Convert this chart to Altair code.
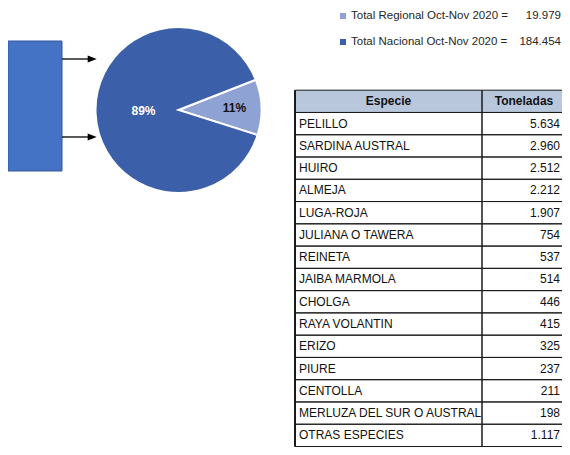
import math
import altair as alt
import pandas as pd

# ---------------- data ----------------
especies = ["PELILLO", "SARDINA AUSTRAL", "HUIRO", "ALMEJA", "LUGA-ROJA",
            "JULIANA O TAWERA", "REINETA", "JAIBA MARMOLA", "CHOLGA",
            "RAYA VOLANTIN", "ERIZO", "PIURE", "CENTOLLA",
            "MERLUZA DEL SUR O AUSTRAL", "OTRAS ESPECIES"]
toneladas = [5634, 2960, 2512, 2212, 1907, 754, 537, 514, 446, 415, 325,
             237, 211, 198, 1117]
encabezados = ["Especie", "Toneladas"]

totales_claves = ["Regional", "Nacional"]
totales_textos = ["Total Regional Oct-Nov 2020 =", "Total Nacional Oct-Nov 2020 ="]
totales_valores = [19979, 184454]

# ---------------- styles ----------------
C_LIGHT = "#8FA2D4"
C_DARK = "#3B5FA9"
C_BOX = "#4472C4"
HEADER_FILL = "#B8C7DC"
FONT = "Liberation Sans"

color_scale = alt.Scale(domain=totales_claves, range=[C_LIGHT, C_DARK])

# ---------------- tables ----------------
pie_df = pd.DataFrame({
    "part": totales_claves,
    "value": [totales_valores[0], totales_valores[1] - totales_valores[0]],
    "orden": [0, 1],
})
leg_df = pd.DataFrame({"part": totales_claves, "label": totales_textos,
                       "value": totales_valores})
rows_df = pd.DataFrame({"r": list(range(1, len(especies) + 1)),
                        "especie": especies, "ton": toneladas})
head_df = pd.DataFrame({"r": [0], "c1": [encabezados[0]], "c2": [encabezados[1]]})
all_rows = pd.DataFrame({"r": list(range(0, len(especies) + 1))})

# ---------------- decoration (box + arrows) ----------------
deco_src = alt.Chart(pd.DataFrame({"k": [0]}))
box = deco_src.mark_rect(fill=C_BOX, stroke="#34589C", strokeWidth=1).encode(
    x=alt.value(0), x2=alt.value(54), y=alt.value(33), y2=alt.value(163))
arrow_shape = "M-1,-0.8L1,0L-1,0.8Z"
arrows = []
for yy in (51, 129):
    arrows.append(deco_src.mark_rule(color="black", strokeWidth=1.3).encode(
        x=alt.value(54), x2=alt.value(84), y=alt.value(yy)))
    arrows.append(deco_src.mark_point(shape=arrow_shape, filled=True, color="black",
                                      opacity=1, size=81).encode(
        x=alt.value(84.2), y=alt.value(yy)))
deco = alt.layer(box, *arrows)

# ---------------- pie ----------------
start = math.radians(68.6)
theta = alt.Theta("value:Q", stack=True,
                  scale=alt.Scale(range=[start, start + 2 * math.pi]))
CX, CY = 170.5, 102
pie_base = alt.Chart(pie_df).transform_joinaggregate(
    total="sum(value)").transform_calculate(
    pct="format(datum.value / datum.total, '.0%')")
arc = pie_base.mark_arc(outerRadius=83, stroke="white", strokeWidth=2).encode(
    theta=theta,
    color=alt.Color("part:N", scale=color_scale, legend=None),
    order=alt.Order("orden:Q"),
    x=alt.value(CX), y=alt.value(CY))
lab_big = pie_base.mark_text(radius=35, font=FONT, fontSize=12, fontWeight="bold",
                             color="white").encode(
    theta=theta, order=alt.Order("orden:Q"),
    text=alt.condition(alt.datum.part == "Nacional", alt.Text("pct:N"), alt.value("")),
    x=alt.value(CX), y=alt.value(CY))
lab_small = pie_base.mark_text(radius=56, font=FONT, fontSize=12, fontWeight="bold",
                               color="#111111").encode(
    theta=theta, order=alt.Order("orden:Q"),
    text=alt.condition(alt.datum.part == "Regional", alt.Text("pct:N"), alt.value("")),
    x=alt.value(CX), y=alt.value(CY))
pie = alt.layer(arc, lab_big, lab_small)

# ---------------- legend ----------------
leg_y = alt.Y("part:N", axis=None,
              scale=alt.Scale(type="point", domain=totales_claves, range=[8, 34], padding=0))
leg_base = alt.Chart(leg_df).transform_calculate(
    num="replace(format(datum.value, ','), ',', '.')")
leg_sq = leg_base.mark_square(size=36, opacity=1).encode(
    x=alt.value(335), y=leg_y,
    color=alt.Color("part:N", scale=color_scale, legend=None))
leg_lab = leg_base.mark_text(align="left", font=FONT, fontSize=11.5, color="#262626").encode(
    x=alt.value(343), y=leg_y, text="label:N")
leg_num = leg_base.mark_text(align="right", font=FONT, fontSize=11.5, color="#262626").encode(
    x=alt.value(553), y=leg_y, text="num:N")
legend = alt.layer(leg_sq, leg_lab, leg_num)

# ---------------- table ----------------
XL, XM, XR = 287, 474, 570
YT, YB = 82.2, 438.5
ty = alt.Y("r:O", axis=None,
           scale=alt.Scale(type="band", domain=list(range(0, len(especies) + 1)),
                           range=[YT, YB], paddingInner=0, paddingOuter=0))
head_rect = alt.Chart(head_df).mark_rect(fill=HEADER_FILL).encode(
    x=alt.value(XL), x2=alt.value(XR), y=ty)
cells1 = alt.Chart(all_rows).mark_rect(fill="transparent", stroke="#1a1a1a",
                                       strokeWidth=1).encode(
    x=alt.value(XL), x2=alt.value(XM), y=ty)
cells2 = alt.Chart(all_rows).mark_rect(fill="transparent", stroke="#1a1a1a",
                                       strokeWidth=1).encode(
    x=alt.value(XM), x2=alt.value(XR), y=ty)
left_border = alt.Chart(head_df).mark_rule(color="#1a1a1a", strokeWidth=2).encode(
    x=alt.value(XL), y=alt.value(YT), y2=alt.value(YB))
h1 = alt.Chart(head_df).mark_text(font=FONT, fontSize=12, fontWeight="bold",
                                  color="#111111").encode(
    x=alt.value((XL + XM) / 2), y=ty, text="c1:N")
h2 = alt.Chart(head_df).mark_text(font=FONT, fontSize=12, fontWeight="bold",
                                  color="#111111").encode(
    x=alt.value(516), y=ty, text="c2:N")
t1 = alt.Chart(rows_df).mark_text(align="left", font=FONT, fontSize=12,
                                  color="#111111").encode(
    x=alt.value(291), y=ty, text="especie:N")
t2 = alt.Chart(rows_df).transform_calculate(
    num="replace(format(datum.ton, ','), ',', '.')").mark_text(
    align="right", font=FONT, fontSize=12, color="#111111").encode(
    x=alt.value(552), y=ty, text="num:N")
table = alt.layer(head_rect, cells1, cells2, left_border, h1, h2, t1, t2)

chart = alt.layer(deco, pie, legend, table).resolve_scale(
    y="independent").properties(
    width=554, height=439, padding=0, autosize=alt.AutoSizeParams(type="none")
).configure_view(stroke=None)

chart.save("out.html", embed_options={"renderer": "svg", "actions": False})
